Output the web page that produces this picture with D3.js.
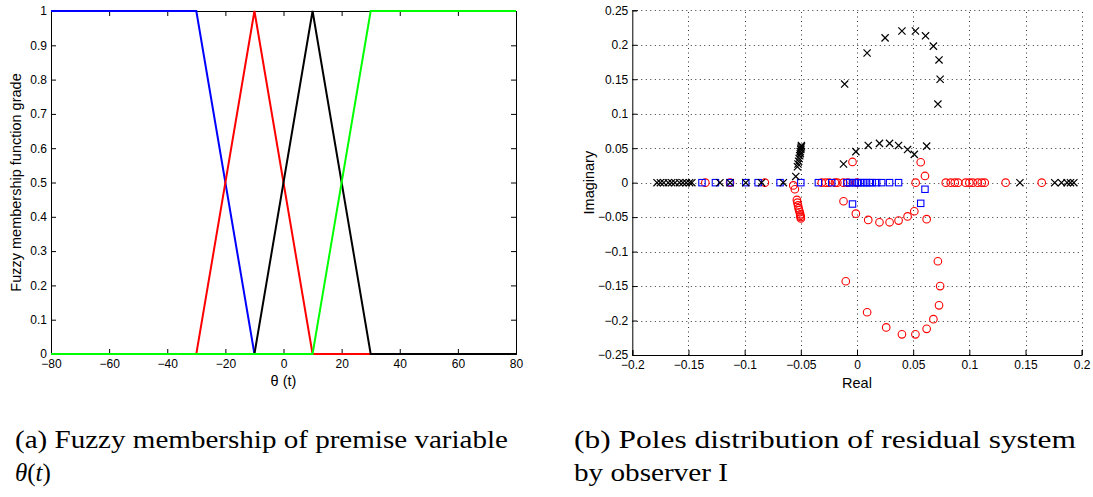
<!DOCTYPE html>
<html>
<head>
<meta charset="utf-8">
<script src="https://cdn.jsdelivr.net/npm/d3@7/dist/d3.min.js"></script>
<style>
  html, body { margin: 0; padding: 0; background: #fff; }
  svg { display: block; }
  .tick text { font-family: "Liberation Sans", Arial, sans-serif; font-size: 12px; fill: #000; }
  .axlabel { font-family: "Liberation Sans", Arial, sans-serif; font-size: 14.5px; fill: #000; }
  .caption { font-family: "Liberation Serif", "Times New Roman", serif; font-size: 25px; fill: #000; }
</style>
</head>
<body>
<svg id="fig" width="1093" height="497"></svg>
<script>
// ---- (a) membership functions of the premise variable ----
const thetaTicks = [-80, -60, -40, -20, 0, 20, 40, 60, 80];
const gradeTicks = [0, 0.1, 0.2, 0.3, 0.4, 0.5, 0.6, 0.7, 0.8, 0.9, 1];
const memTheta = [-80, -30, -10, 10, 30, 80];
const muBlue  = [1, 1, 0, 0, 0, 0];
const muRed   = [0, 0, 1, 0, 0, 0];
const muBlack = [0, 0, 0, 1, 0, 0];
const muGreen = [0, 0, 0, 0, 1, 1];

// ---- (b) pole locations (real, imaginary) ----
const realTicks = [-0.2, -0.15, -0.1, -0.05, 0, 0.05, 0.1, 0.15, 0.2];
const imagTicks = [-0.25, -0.2, -0.15, -0.1, -0.05, 0, 0.05, 0.1, 0.15, 0.2, 0.25];

// poles marked with crosses
const crossRe = [-0.178, -0.175, -0.172, -0.168, -0.165, -0.162, -0.158, -0.155, -0.152, -0.149, -0.147,
  -0.122, -0.113, -0.099, -0.085, -0.0656,
  -0.0545, -0.053, -0.0525, -0.052, -0.0515, -0.051, -0.0505, -0.0505, -0.050, -0.050, -0.0495, -0.0495,
  -0.012, -0.001, 0.010, 0.020, 0.029, 0.037, 0.045, 0.051, 0.062,
  -0.011, 0.009, 0.025, 0.040, 0.052, 0.061, 0.068, 0.073, 0.074, 0.072,
  0.145, 0.176, 0.182, 0.187, 0.190, 0.193];
const crossIm = [0, 0, 0, 0, 0, 0, 0, 0, 0, 0, 0,
  0, 0, 0, 0, 0,
  0.009, 0.023, 0.027, 0.031, 0.035, 0.039, 0.042, 0.045, 0.048, 0.050, 0.052, 0.054,
  0.027, 0.045, 0.054, 0.057, 0.057, 0.054, 0.048, 0.041, 0.053,
  0.143, 0.188, 0.210, 0.220, 0.220, 0.213, 0.198, 0.178, 0.150, 0.114,
  0, 0, 0, 0, 0, 0];

// poles marked with circles
const circleRe = [-0.135, -0.113, -0.082, -0.0314, -0.0278, -0.0248, -0.0196, -0.0175, -0.0122, -0.0083, 0.0,
  0.0522, 0.079, 0.0834, 0.087, 0.090, 0.0967, 0.100, 0.103, 0.1074, 0.111, 0.1137, 0.1323, 0.1644,
  -0.004, 0.0567, 0.0605,
  -0.0567, -0.0553, -0.0535, -0.053, -0.0525, -0.052, -0.0515, -0.051, -0.0505, -0.0505, -0.050, -0.050,
  -0.012, -0.001, 0.010, 0.020, 0.029, 0.037, 0.045, 0.051, 0.062,
  -0.010, 0.009, 0.026, 0.040, 0.052, 0.062, 0.068, 0.073, 0.074, 0.072];
const circleIm = [0, 0, 0, 0, 0, 0, 0, 0, 0, 0, 0,
  0, 0, 0, 0, 0, 0, 0, 0, 0, 0, 0, 0, 0,
  0.030, 0.0296, 0.0097,
  -0.004, -0.0096, -0.025, -0.029, -0.033, -0.037, -0.040, -0.043, -0.046, -0.048, -0.050, -0.052,
  -0.027, -0.045, -0.054, -0.0575, -0.0575, -0.055, -0.049, -0.0415, -0.053,
  -0.143, -0.188, -0.210, -0.220, -0.220, -0.212, -0.198, -0.178, -0.150, -0.114];

// poles marked with squares
const squareRe = [-0.138, -0.126, -0.113, -0.099, -0.088, -0.0685, -0.050, -0.0344, -0.0225,
  -0.009, -0.0065, -0.004, -0.0015, 0.001, 0.0035, 0.006, 0.0085, 0.011, 0.0135,
  0.0175, 0.022, 0.029, 0.037,
  -0.004, 0.0567, 0.0605];
const squareIm = [0, 0, 0, 0, 0, 0, 0, 0, 0,
  0, 0, 0, 0, 0, 0, 0, 0, 0, 0,
  0, 0, 0, 0,
  -0.031, -0.030, -0.0096];

const svg = d3.select("#fig");
const minus = s => s.replace(/-/g, "\u2212");

// ================= panel (a) =================
const A = { left: 51, right: 516, top: 11, bottom: 354 };
const xA = d3.scaleLinear().domain([-80, 80]).range([A.left, A.right]);
const yA = d3.scaleLinear().domain([0, 1]).range([A.bottom, A.top]);
const gA = svg.append("g");

const fmtA = d => minus(d3.format("")(d));
gA.append("g").attr("transform", `translate(0,${A.bottom})`)
  .call(d3.axisBottom(xA).tickValues(thetaTicks).tickSize(-5).tickPadding(5).tickFormat(fmtA));
gA.append("g").attr("transform", `translate(0,${A.top})`)
  .call(d3.axisTop(xA).tickValues(thetaTicks).tickSize(-5).tickFormat(""));
gA.append("g").attr("transform", `translate(${A.left},0)`)
  .call(d3.axisLeft(yA).tickValues(gradeTicks).tickSize(-5).tickPadding(4).tickFormat(d => d3.format("")(+d.toFixed(1))));
gA.append("g").attr("transform", `translate(${A.right},0)`)
  .call(d3.axisRight(yA).tickValues(gradeTicks).tickSize(-5).tickFormat(""));
gA.selectAll(".domain").attr("stroke", "#000").attr("stroke-width", 1);
gA.selectAll(".tick line").attr("stroke", "#000");

const lineA = d3.line().x(d => xA(d[0])).y(d => yA(d[1]));
[[muBlue, "#0000ff"], [muRed, "#ff0000"], [muBlack, "#000000"], [muGreen, "#00ff00"]].forEach(([mu, c]) => {
  gA.append("path")
    .datum(memTheta.map((t, i) => [t, mu[i]]))
    .attr("d", lineA)
    .attr("fill", "none")
    .attr("stroke", c)
    .attr("stroke-width", 2)
    .attr("stroke-linejoin", "miter");
});

gA.append("text").attr("class", "axlabel")
  .attr("x", (A.left + A.right) / 2).attr("y", 386)
  .attr("text-anchor", "middle").text("\u03b8 (t)");
gA.append("text").attr("class", "axlabel")
  .attr("transform", `translate(21,${(A.top + A.bottom) / 2}) rotate(-90)`)
  .attr("text-anchor", "middle").text("Fuzzy membership function grade");

// ================= panel (b) =================
const B = { left: 632.3, right: 1081.7, top: 10.3, bottom: 355 };
const xB = d3.scaleLinear().domain([-0.2, 0.2]).range([B.left, B.right]);
const yB = d3.scaleLinear().domain([-0.25, 0.25]).range([B.bottom, B.top]);
const gB = svg.append("g");

// dotted grid
const grid = gB.append("g").attr("stroke", "#333").attr("stroke-width", 1)
  .attr("stroke-dasharray", "1,3.5");
grid.selectAll("line.v").data(realTicks.slice(1)).join("line").attr("class", "v")
  .attr("x1", d => Math.round(xB(d)) + 0.5).attr("x2", d => Math.round(xB(d)) + 0.5)
  .attr("y1", B.bottom).attr("y2", B.top);
grid.selectAll("line.h").data(imagTicks.slice(1)).join("line").attr("class", "h")
  .attr("y1", d => Math.round(yB(d)) + 0.5).attr("y2", d => Math.round(yB(d)) + 0.5)
  .attr("x1", B.left).attr("x2", B.right);

const fmtB = d => minus(d3.format("")(+d.toFixed(2)));
gB.append("g").attr("transform", `translate(0,${B.bottom})`)
  .call(d3.axisBottom(xB).tickValues(realTicks).tickSize(-5).tickPadding(5).tickFormat(fmtB));
gB.append("g").attr("transform", `translate(${B.left},0)`)
  .call(d3.axisLeft(yB).tickValues(imagTicks).tickSize(-5).tickPadding(4).tickFormat(fmtB));
gB.selectAll(".domain").attr("stroke", "#000").attr("stroke-width", 1);
gB.selectAll(".tick line").attr("stroke", "#000");

// markers
const marks = gB.append("g");
marks.selectAll("circle.pc").data(circleRe.map((r, i) => [r, circleIm[i]])).join("circle")
  .attr("class", "pc")
  .attr("cx", d => xB(d[0])).attr("cy", d => yB(d[1])).attr("r", 3.8)
  .attr("fill", "none").attr("stroke", "#ff0000").attr("stroke-width", 1.1);
const sq = 6.4;
marks.selectAll("rect.ps").data(squareRe.map((r, i) => [r, squareIm[i]])).join("rect")
  .attr("class", "ps")
  .attr("x", d => xB(d[0]) - sq / 2).attr("y", d => yB(d[1]) - sq / 2)
  .attr("width", sq).attr("height", sq)
  .attr("fill", "none").attr("stroke", "#0000ff").attr("stroke-width", 1.1);
const cx = 3.6;
marks.selectAll("path.px").data(crossRe.map((r, i) => [r, crossIm[i]])).join("path")
  .attr("class", "px")
  .attr("d", d => {
    const x = xB(d[0]), y = yB(d[1]);
    return `M${x - cx},${y - cx}L${x + cx},${y + cx}M${x - cx},${y + cx}L${x + cx},${y - cx}`;
  })
  .attr("fill", "none").attr("stroke", "#000").attr("stroke-width", 1.2);

gB.append("text").attr("class", "axlabel")
  .attr("x", (B.left + B.right) / 2).attr("y", 388)
  .attr("text-anchor", "middle").text("Real");
gB.append("text").attr("class", "axlabel")
  .attr("transform", `translate(594,${(B.top + B.bottom) / 2}) rotate(-90)`)
  .attr("text-anchor", "middle").text("Imaginary");

// ================= captions =================
svg.append("text").attr("class", "caption").attr("x", 15).attr("y", 448)
  .attr("textLength", 493).attr("lengthAdjust", "spacingAndGlyphs")
  .text("(a) Fuzzy membership of premise variable");
const capA2 = svg.append("text").attr("class", "caption").attr("x", 15).attr("y", 481);
capA2.append("tspan").attr("font-style", "italic").text("\u03b8");
capA2.append("tspan").text("(");
capA2.append("tspan").attr("font-style", "italic").text("t");
capA2.append("tspan").text(")");

svg.append("text").attr("class", "caption").attr("x", 574).attr("y", 448)
  .attr("textLength", 502).attr("lengthAdjust", "spacingAndGlyphs")
  .text("(b) Poles distribution of residual system");
svg.append("text").attr("class", "caption").attr("x", 574).attr("y", 481)
  .attr("textLength", 154).attr("lengthAdjust", "spacingAndGlyphs")
  .text("by observer I");
</script>
</body>
</html>
